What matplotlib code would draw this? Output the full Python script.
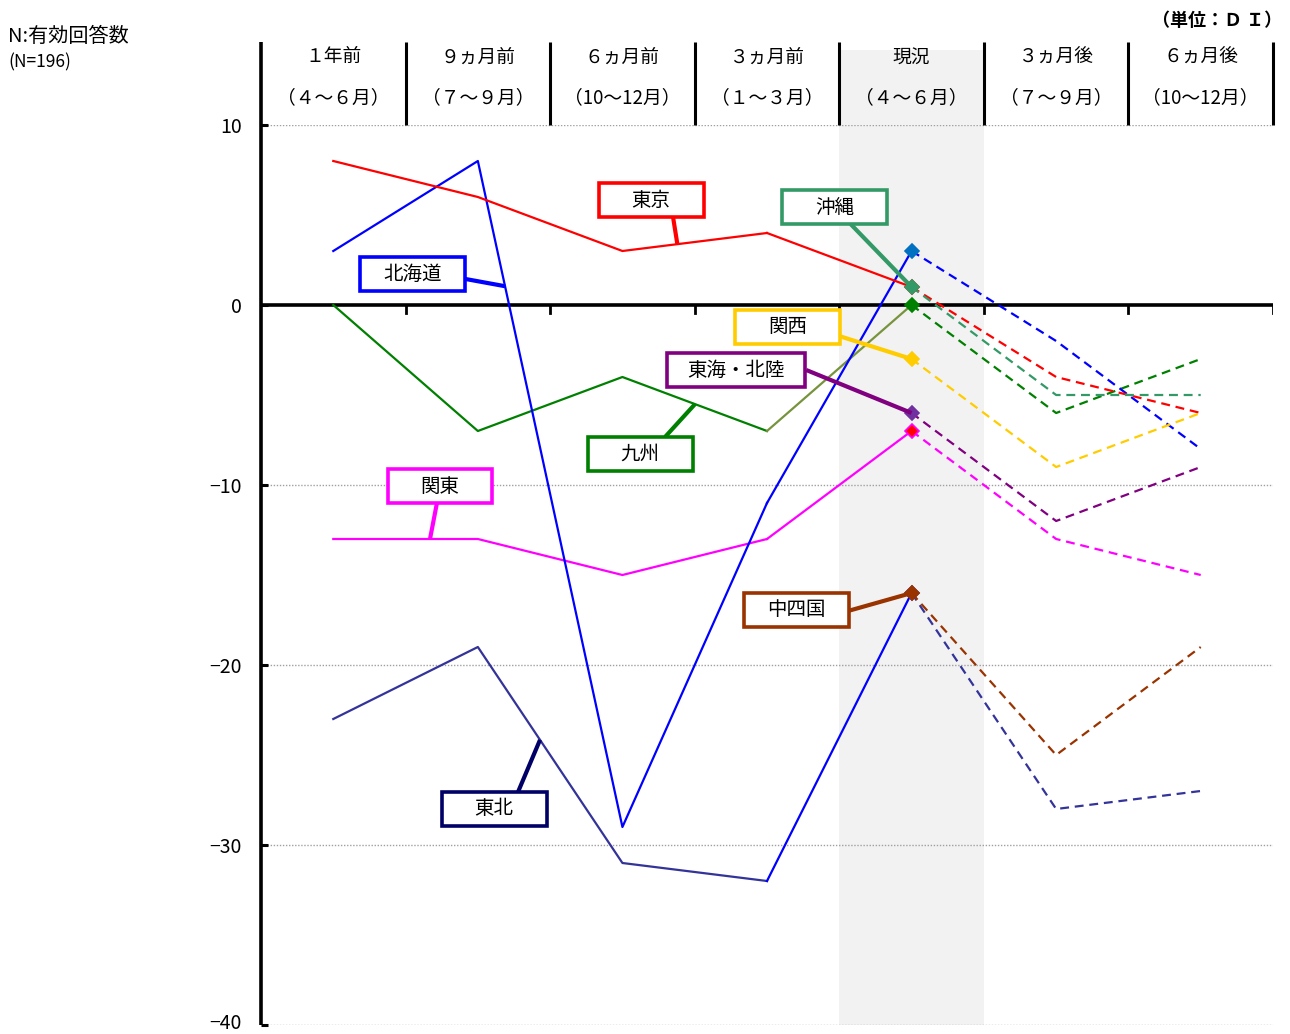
import numpy as np
import matplotlib
matplotlib.use("Agg")
import matplotlib.pyplot as plt
import matplotlib.transforms as mtransforms
from matplotlib.patches import Rectangle

plt.rcParams['font.family'] = ['Noto Sans CJK JP', 'DejaVu Sans']

# ---- data -------------------------------------------------------------
periods_top = ["１年前", "９ヵ月前", "６ヵ月前", "３ヵ月前", "現況", "３ヵ月後", "６ヵ月後"]
periods_sub = ["（４～６月）", "（７～９月）", "（10～12月）", "（１～３月）",
               "（４～６月）", "（７～９月）", "（10～12月）"]

regions = ["北海道", "東北", "関東", "東京", "東海・北陸", "関西", "中四国", "九州", "沖縄"]
nan = np.nan
di_hokkaido = [3, 8, -29, -11, 3, -2, -8]
di_tohoku   = [-23, -19, -31, -32, -16, -28, -27]
di_kanto    = [-13, -13, -15, -13, -7, -13, -15]
di_tokyo    = [8, 6, 3, 4, 1, -4, -6]
di_tokai    = [nan, nan, nan, nan, -6, -12, -9]
di_kansai   = [nan, nan, nan, nan, -3, -9, -6]
di_chushi   = [nan, nan, nan, nan, -16, -25, -19]
di_kyushu   = [0, -7, -4, -7, 0, -6, -3]
di_okinawa  = [nan, nan, nan, nan, 1, -5, -5]

series = {
    "北海道": di_hokkaido, "東北": di_tohoku, "関東": di_kanto, "東京": di_tokyo,
    "東海・北陸": di_tokai, "関西": di_kansai, "中四国": di_chushi,
    "九州": di_kyushu, "沖縄": di_okinawa,
}

y_ticks = [10, 0, -10, -20, -30, -40]
y_ticklabels = ["10", "0", "−10", "−20", "−30", "−40"]

# ---- styles -----------------------------------------------------------
line_color = {
    "北海道": "#0000FF", "東北": "#333399", "関東": "#FF00FF", "東京": "#FF0000",
    "東海・北陸": "#800080", "関西": "#FFCC00", "中四国": "#993300",
    "九州": "#008000", "沖縄": "#339966",
}
# colour of the segment leading into the current quarter
last_seg_color = dict(line_color)
last_seg_color["九州"] = "#77933C"
last_seg_color["東北"] = "#0000FF"

marker_face = {
    "北海道": "#0070C0", "東北": "#333399", "関東": "#FF0000", "東京": "#FF0000",
    "東海・北陸": "#7030A0", "関西": "#FFCC00", "中四国": "#993300",
    "九州": "#008000", "沖縄": "#339966",
}
marker_edge = dict(marker_face)
marker_edge["関東"] = "#FF00FF"

box_color = dict(line_color)
box_color["東北"] = "#000066"

draw_order = ["東北", "関東", "九州", "北海道", "東京", "東海・北陸", "関西", "沖縄", "中四国"]

# ---- figure -----------------------------------------------------------
W, H = 1290, 1034
fig = plt.figure(figsize=(W / 100, H / 100), dpi=100)
ax = fig.add_axes([261 / W, 1 - 1025 / H, (1273 - 261) / W, (1025 - 125) / H])
ax.set_xlim(-0.5, 6.5)
ax.set_ylim(-40, 10)
for s in ax.spines.values():
    s.set_visible(False)

x = np.arange(len(periods_top))
cur = periods_top.index("現況")
head_top = 14.6

# shaded current-quarter column
ax.add_patch(Rectangle((cur - 0.5, -40), 1, 14.17 + 40, facecolor="#F2F2F2",
                       edgecolor="none", zorder=0, clip_on=False))

# dotted gridlines
for gy in [10, -10, -20, -30, -40]:
    ax.plot([-0.5, 6.5], [gy, gy], ls=(0, (1, 1.2)), color="#A0A0A0", lw=1.0, zorder=1)

# zero axis with ticks below
ax.plot([-0.5, 6.5], [0, 0], color="black", lw=2.6, zorder=3, solid_capstyle="butt")
for b in np.arange(0.5, 7.0, 1.0):
    ax.plot([b, b], [0, -0.42], color="black", lw=2.0, zorder=3)

# left axis line and header separators
ax.plot([-0.5, -0.5], [-40, head_top], color="black", lw=2.6, clip_on=False, zorder=5,
        solid_capstyle="butt")
for b in np.arange(0.5, 7.0, 1.0):
    ax.plot([b, b], [10, head_top], color="black", lw=2.2, clip_on=False, zorder=5,
            solid_capstyle="butt")

# header text
for i in x:
    ax.text(i, 13.78, periods_top[i], ha="center", va="center", fontsize=13.5, clip_on=False)
    ax.text(i, 11.5, periods_sub[i], ha="center", va="center", fontsize=13.5, clip_on=False)

# y axis ticks
ax.set_xticks([])
ax.set_yticks(y_ticks)
ax.set_yticklabels(y_ticklabels, fontsize=14)
ax.tick_params(axis="y", direction="in", length=5, width=2.2, pad=14)
# keep the lowest label inside the canvas
lowest = ax.get_yticklabels()[-1]
lowest.set_transform(lowest.get_transform() +
                     mtransforms.ScaledTranslation(0, 4 / 100, fig.dpi_scale_trans))

# ---- series -----------------------------------------------------------
for k, name in enumerate(draw_order):
    v = np.array(series[name], dtype=float)
    z = 6 + k * 0.1
    # past (solid)
    ax.plot(x[:cur], v[:cur], color=line_color[name], lw=1.6, zorder=z)
    ax.plot(x[cur - 1:cur + 1], v[cur - 1:cur + 1], color=last_seg_color[name], lw=1.6, zorder=z)
    # outlook (dashed)
    ax.plot(x[cur:], v[cur:], color=line_color[name], lw=1.6, ls=(0, (4, 2.6)), zorder=z)
for k, name in enumerate(draw_order):
    v = series[name]
    ax.plot([x[cur]], [v[cur]], marker="D", ms=7.5, mfc=marker_face[name],
            mec=marker_edge[name], mew=1.2, zorder=9 + k * 0.1, ls="none")

# ---- callout labels ---------------------------------------------------
def on_line(name, xpos):
    v = np.array(series[name], dtype=float)
    return xpos, float(np.interp(xpos, x, v))

box_w, box_h = 0.726, 1.89
labels = {
    # name: (box centre, leader start, leader target x, box width)
    "東京":     ((2.198, 5.83), (2.35, 4.89), 2.38, box_w),
    "北海道":   ((0.551, 1.72), (0.775, 1.65), 1.188, box_w),
    "沖縄":     ((3.470, 5.44), (3.578, 4.50), 4.0, box_w),
    "関西":     ((3.145, -1.22), (3.498, -1.72), 4.0, box_w),
    "東海・北陸": ((2.786, -3.61), (3.271, -3.61), 4.0, 0.96),
    "九州":     ((2.122, -8.28), (2.295, -7.33), 2.502, box_w),
    "関東":     ((0.738, -10.06), (0.717, -11.0), 0.669, box_w),
    "中四国":   ((3.201, -16.94), (3.560, -17.0), 4.0, box_w),
    "東北":     ((1.112, -28.0), (1.278, -27.05), 1.43, box_w),
}
for name, ((cx, cy), (sx, sy), tx, bw) in labels.items():
    tx, ty = on_line(name, tx)
    ax.plot([sx, tx], [sy, ty], color=box_color[name], lw=3.0, zorder=12,
            solid_capstyle="butt")
    ax.add_patch(Rectangle((cx - bw / 2, cy - box_h / 2), bw, box_h, facecolor="white",
                           edgecolor=box_color[name], lw=2.6, zorder=13))
    ax.text(cx, cy, name, ha="center", va="center", fontsize=14, zorder=14)

# ---- annotations ------------------------------------------------------
fig.text(8 / W, 1 - 37 / H, "N:有効回答数", ha="left", va="center", fontsize=14.5)
fig.text(8 / W, 1 - 62 / H, "(N=196)", ha="left", va="center", fontsize=12.5)
fig.text(1282 / W, 1 - 20 / H, "（単位：Ｄ Ｉ）", ha="right", va="center",
         fontsize=13, fontweight="bold")

fig.savefig("out.png", dpi=100)
